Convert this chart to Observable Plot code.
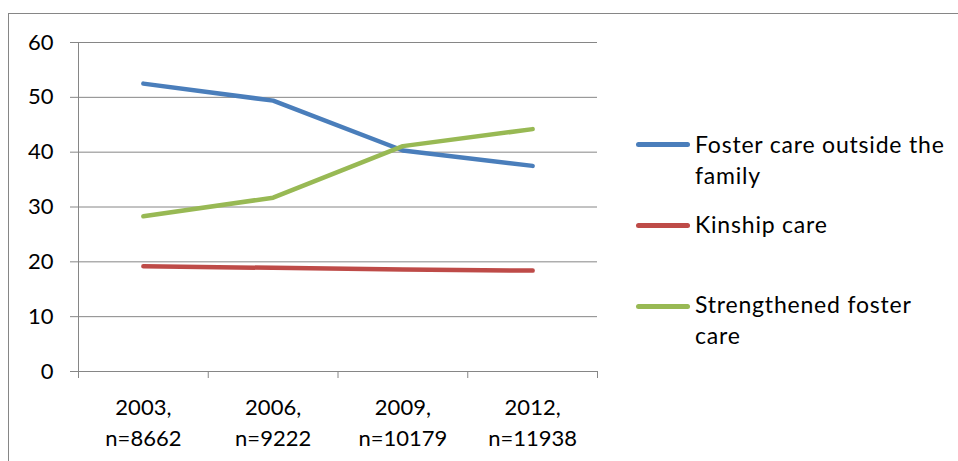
<!DOCTYPE html>
<html>
<head>
<meta charset="utf-8">
<script src="https://cdn.jsdelivr.net/npm/d3@7"></script>
<script src="https://cdn.jsdelivr.net/npm/@observablehq/plot@0.6"></script>
<style>
  html, body { margin: 0; padding: 0; background: #fff; }
  #wrap { position: relative; width: 958px; height: 461px; overflow: hidden; font-family: Lato, "Open Sans", sans-serif; }
  #frame { position: absolute; left: 8px; top: 13px; width: 1000px; height: 500px; border: 1px solid #868686; box-sizing: border-box; }
  #chart { position: absolute; left: 0; top: 0; }
  .item { position: absolute; left: 636px; font-size: 23px; letter-spacing: 0.8px; line-height: 31px; color: #000; }
  .item .sw { position: absolute; left: 0; width: 54px; height: 5px; border-radius: 3px; }
  .item .tx { margin-left: 59px; white-space: nowrap; }
</style>
</head>
<body>
<div id="wrap">
  <div id="frame"></div>
  <div id="chart"></div>
  <div id="legend"></div>
</div>
<script>
const categories = ["2003,\nn=8662", "2006,\nn=9222", "2009,\nn=10179", "2012,\nn=11938"];
const seriesNames = ["Foster care outside the family", "Kinship care", "Strengthened foster care"];
const legendLabels = ["Foster care outside the\nfamily", "Kinship care", "Strengthened foster\ncare"];
const fosterOutside = [52.5, 49.4, 40.3, 37.5];
const kinship = [19.2, 18.9, 18.6, 18.4];
const strengthened = [28.3, 31.7, 41.1, 44.2];
const yTicks = [0, 10, 20, 30, 40, 50, 60];
const colors = ["#4A7EBB", "#BE4B48", "#98B954"];

const seriesValues = [fosterOutside, kinship, strengthened];
const data = [];
seriesValues.forEach((vals, s) => vals.forEach((v, i) => data.push({series: seriesNames[s], idx: i + 0.5, value: v})));
const boundaries = d3.range(categories.length + 1);
const centers = categories.map((c, i) => i + 0.5);

const grid = "#868686";
const chart = Plot.plot({
  width: 958,
  height: 461,
  marginLeft: 78,
  marginRight: 361,
  marginTop: 42,
  marginBottom: 90,
  style: {fontFamily: "Lato, 'Open Sans', sans-serif", fontSize: "22px", color: "#000", background: "transparent", overflow: "visible"},
  x: {domain: [0, categories.length], label: null},
  y: {domain: [0, 60], label: null},
  color: {domain: seriesNames, range: colors},
  marks: [
    Plot.gridY(yTicks, {stroke: grid, strokeOpacity: 1, strokeWidth: 1}),
    Plot.axisY(yTicks, {tickSize: 8, tickPadding: 17, stroke: grid, strokeOpacity: 1, fill: "#000", fontSize: 22, label: null}),
    Plot.ruleX([0], {y1: 0, y2: 60, stroke: grid}),
    Plot.axisX(boundaries, {tickSize: 7, stroke: grid, strokeOpacity: 1, tickFormat: () => "", label: null}),
    Plot.axisX(centers, {tickSize: 0, tickPadding: 22, tickFormat: d => categories[Math.floor(d)], fill: "#000", fontSize: 22, lineHeight: 1.4, label: null}),
    Plot.line(data, {x: "idx", y: "value", z: "series", stroke: "series", strokeWidth: 4.5, strokeLinecap: "round", strokeLinejoin: "round"})
  ]
});
document.getElementById("chart").appendChild(chart);

const legend = document.getElementById("legend");
const tops = [129, 209, 289];
const lineOffsets = [13, 14, 15];
legendLabels.forEach((lab, i) => {
  const it = document.createElement("div");
  it.className = "item";
  it.style.top = tops[i] + "px";
  const sw = document.createElement("span");
  sw.className = "sw";
  sw.style.background = colors[i];
  sw.style.top = lineOffsets[i] + "px";
  it.appendChild(sw);
  const tx = document.createElement("div");
  tx.className = "tx";
  tx.innerHTML = lab.split("\n").join("<br>");
  it.appendChild(tx);
  legend.appendChild(it);
});
</script>
</body>
</html>
